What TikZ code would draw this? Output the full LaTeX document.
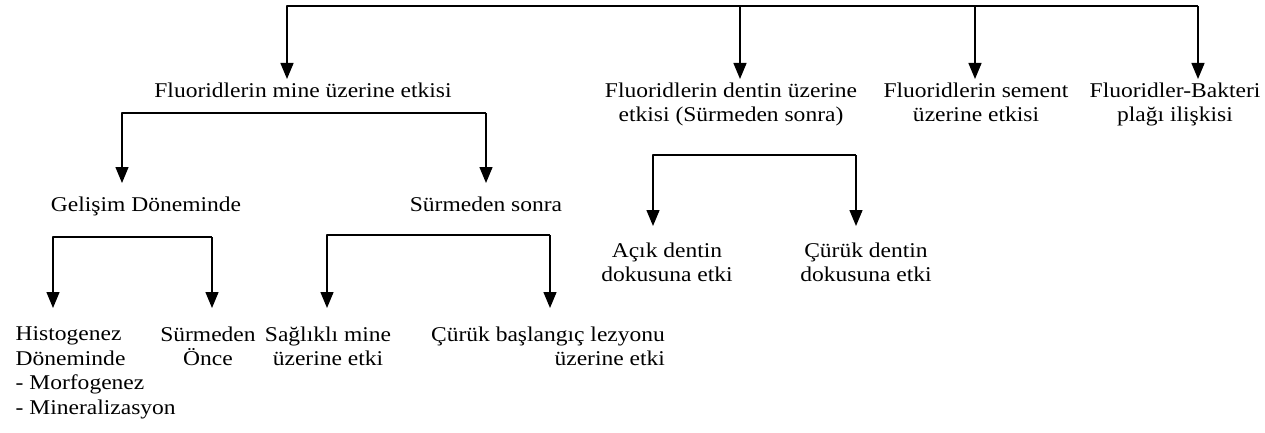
\documentclass[tikz,border=0pt]{standalone}
\usepackage{fontspec}
\setmainfont{Liberation Serif}[FakeStretch=1.12]
\usetikzlibrary{arrows.meta}
\begin{document}
\begin{tikzpicture}[x=1pt,y=-1pt,line join=round,>={Triangle[length=16pt,width=13pt]},line width=1.4pt,
    font=\fontsize{21}{24.5}\selectfont,
    lbl/.style={inner sep=0pt,anchor=north,align=center}]
    \useasboundingbox (0,0) rectangle (1265,433);
    \node[lbl] (mine) at (303,82) {Fluoridlerin mine üzerine etkisi};
    \node[lbl] (dentin) at (731,82) {Fluoridlerin dentin üzerine\\etkisi (Sürmeden sonra)};
    \node[lbl] (sement) at (976,82) {Fluoridlerin sement\\üzerine etkisi};
    \node[lbl] (bakteri) at (1175,82) {Fluoridler-Bakteri\\plağı ilişkisi};
    \node[lbl] (gelisim) at (146,196) {Gelişim Döneminde};
    \node[lbl] (sonra) at (486,196) {Sürmeden sonra};
    \node[lbl] (acik) at (667,242) {Açık dentin\\dokusuna etki};
    \node[lbl] (curuk) at (866,242) {Çürük dentin\\dokusuna etki};
    \node[lbl,anchor=north west,align=left] (histo) at (15,326) {Histogenez\\Döneminde\\- Morfogenez\\- Mineralizasyon};
    \node[lbl] (once) at (208,326) {Sürmeden\\Önce};
    \node[lbl] (saglikli) at (328,326) {Sağlıklı mine\\üzerine etki};
    \node[lbl,align=right] (lezyon) at (548,326) {Çürük başlangıç lezyonu\\üzerine etki};
    \coordinate (t1) at (287,6);
    \coordinate (t2) at (740,6);
    \coordinate (t3) at (975,6);
    \coordinate (t4) at (1198,6);
    \coordinate (m1) at (122,113);
    \coordinate (m2) at (486,113);
    \coordinate (d1) at (653,155);
    \coordinate (d2) at (856,155);
    \coordinate (g1) at (53,237);
    \coordinate (g2) at (212,237);
    \coordinate (s1) at (327,235);
    \coordinate (s2) at (550,235);
    \draw[->] (t4) -- (t1) -- ([yshift=3pt]t1 |- mine.north);
    \draw[->] (t2) -- ([yshift=3pt]t2 |- dentin.north);
    \draw[->] (t3) -- ([yshift=3pt]t3 |- sement.north);
    \draw[->] (t4) -- ([yshift=3pt]t4 |- bakteri.north);
    \draw[->] (m2) -- (m1) -- ([yshift=13pt]m1 |- gelisim.north);
    \draw[->] (m2) -- ([yshift=13pt]m2 |- sonra.north);
    \draw[->] (d2) -- (d1) -- ([yshift=16pt]d1 |- acik.north);
    \draw[->] (d2) -- ([yshift=16pt]d2 |- curuk.north);
    \draw[->] (g2) -- (g1) -- ([yshift=18pt]g1 |- histo.north);
    \draw[->] (g2) -- ([yshift=18pt]g2 |- once.north);
    \draw[->] (s2) -- (s1) -- ([yshift=18pt]s1 |- saglikli.north);
    \draw[->] (s2) -- ([yshift=18pt]s2 |- lezyon.north);
\end{tikzpicture}
\end{document}
